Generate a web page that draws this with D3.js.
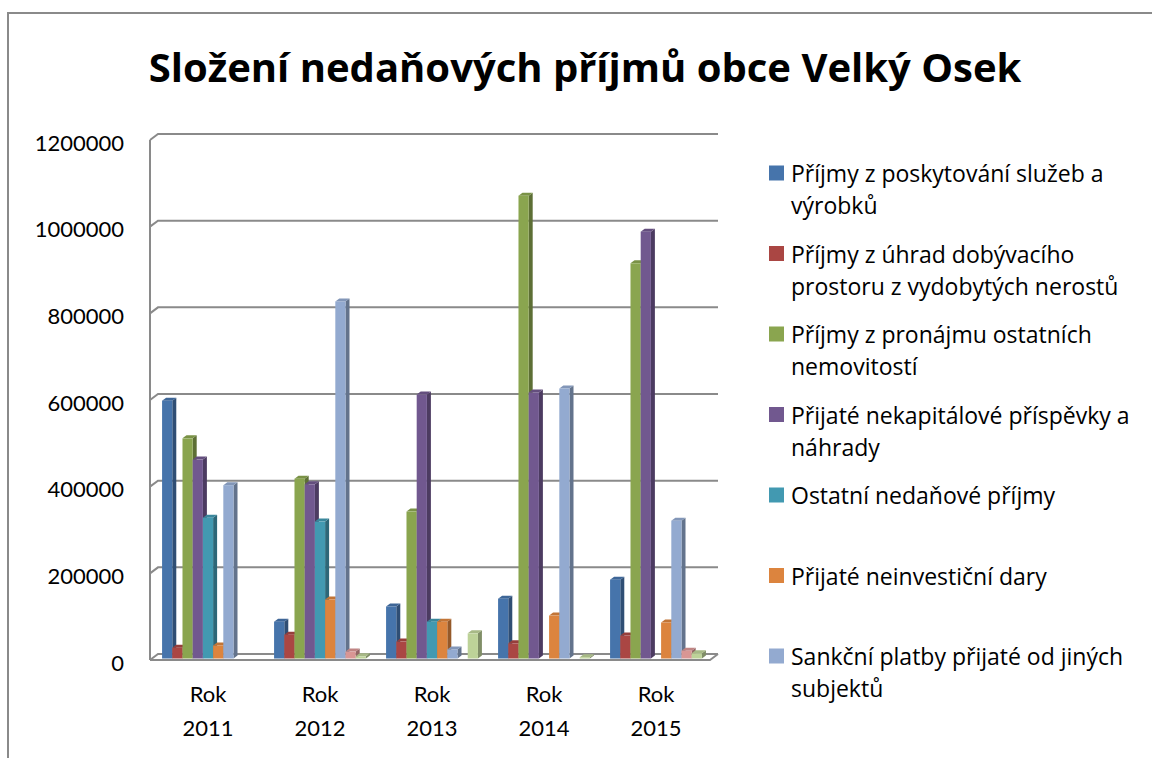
<!DOCTYPE html>
<html><head><meta charset="utf-8">
<script src="https://cdn.jsdelivr.net/npm/d3@7"></script>
<style>
html,body{margin:0;padding:0;background:#fff;}
svg text{font-family:Lato,"Open Sans",sans-serif;fill:#000;}
svg text.os{font-family:"Open Sans",Lato,sans-serif;}
</style></head>
<body><svg id="chart" width="1152" height="758"></svg>
<script>
const title = "Složení nedaňových příjmů obce Velký Osek";
const categories = ["Rok 2011", "Rok 2012", "Rok 2013", "Rok 2014", "Rok 2015"];
const seriesNames = [
  "Příjmy z poskytování služeb a výrobků",
  "Příjmy z úhrad dobývacího prostoru z vydobytých nerostů",
  "Příjmy z pronájmu ostatních nemovitostí",
  "Přijaté nekapitálové příspěvky a náhrady",
  "Ostatní nedaňové příjmy",
  "Přijaté neinvestiční dary",
  "Sankční platby přijaté od jiných subjektů",
  "",
  ""
];
const sluzby      = [595000,  85000, 120000,  138000, 182000];
const dobyvani    = [ 25000,  55000,  39000,   35000,  53000];
const pronajem    = [508000, 415000, 339000, 1068000, 912000];
const nahrady     = [459000, 402000, 609000,  614000, 985000];
const ostatni     = [325000, 316000,  85000,       0,      0];
const dary        = [ 30000, 136000,  85000,   99000,  83000];
const sankce      = [400000, 824000,  21000,  623000, 318000];
const serie8      = [     0,  16000,      0,       0,  18000];
const serie9      = [     0,   5000,  58000,    3000,  12000];
const seriesValues = [sluzby, dobyvani, pronajem, nahrady, ostatni, dary, sankce, serie8, serie9];
const colors = ["#4674AB", "#AA4643", "#8AA54F", "#71588F", "#4299B1", "#DC843E", "#93AAD0", "#D99694", "#BDD298"];
const yTicks = [0, 200000, 400000, 600000, 800000, 1000000, 1200000];
const legendCount = 7;

const svg = d3.select("#chart");
const gridColor = "#8a8a8a";

// outer frame
svg.append("rect").attr("x", 8).attr("y", 13).attr("width", 1200).attr("height", 800)
  .attr("fill", "none").attr("stroke", "#8a8a8a").attr("stroke-width", 2);

// title
svg.append("text").attr("class", "os").attr("x", 585).attr("y", 66).attr("text-anchor", "middle")
  .attr("dominant-baseline", "central").attr("font-weight", "bold").attr("font-size", 40)
  .text(title);

// geometry
const frontX0 = 150, frontX1 = 710, frontY0 = 660;
const dX = 8, dY = -6;
const hScale = d3.scaleLinear().domain([0, 1200000]).range([0, 520]);
const x = d3.scaleBand().domain(categories).range([frontX0, frontX1]).paddingInner(0.18).paddingOuter(0.09);
const xs = d3.scaleBand().domain(d3.range(seriesValues.length)).range([0, x.bandwidth()]);

// walls and gridlines
const grid = svg.append("g").attr("stroke", gridColor).attr("stroke-width", 2).attr("fill", "none");
yTicks.forEach(t => {
  const by = frontY0 + dY - hScale(t);
  grid.append("path").attr("d", `M${frontX0},${by - dY} L${frontX0 + dX},${by} L${frontX1 + dX},${by}`);
});
grid.append("line").attr("x1", frontX0).attr("x2", frontX0).attr("y1", frontY0).attr("y2", frontY0 - hScale(1200000));
grid.append("path").attr("d", `M${frontX0},${frontY0} L${frontX1},${frontY0} L${frontX1 + dX},${frontY0 + dY}`);

// y labels
svg.append("g").selectAll("text").data(yTicks).join("text")
  .attr("x", 124).attr("y", t => frontY0 - hScale(t) + 2)
  .attr("text-anchor", "end").attr("dominant-baseline", "central").attr("font-size", 22)
  .text(t => String(t));

// bars
const bOffX = 2, bOffY = -1.5, bdx = 4, bdy = -3;
const bars = svg.append("g");
categories.forEach((c, ci) => {
  seriesValues.forEach((vals, si) => {
    const v = vals[ci];
    if (!v) return;
    const col = d3.color(colors[si]);
    const w = xs.bandwidth();
    const bx = x(c) + xs(si) + bOffX;
    const base = frontY0 + bOffY;
    const top = base - hScale(v);
    const g = bars.append("g");
    g.append("path").attr("fill", col.darker(1.1).formatHex())
      .attr("d", `M${bx + w},${top} L${bx + w + bdx},${top + bdy} L${bx + w + bdx},${base + bdy} L${bx + w},${base} Z`);
    g.append("path").attr("fill", col.darker(0.35).formatHex())
      .attr("d", `M${bx},${top} L${bx + bdx},${top + bdy} L${bx + w + bdx},${top + bdy} L${bx + w},${top} Z`);
    g.append("rect").attr("x", bx).attr("y", top).attr("width", w).attr("height", hScale(v))
      .attr("fill", col.formatHex());
  });
});

// category labels
const catG = svg.append("g");
categories.forEach(c => {
  const parts = c.split(" ");
  const cx = x(c) + x.bandwidth() / 2 + 2;
  parts.forEach((p, i) => {
    catG.append("text").attr("x", cx).attr("y", 693 + i * 34).attr("text-anchor", "middle")
      .attr("dominant-baseline", "central").attr("font-size", 22).text(p);
  });
});

// legend
const leg = svg.append("g");
const maxW = 350;
const legFont = 23;
seriesNames.slice(0, legendCount).forEach((name, i) => {
  const y0 = 173 + i * 80.5;
  leg.append("rect").attr("x", 769).attr("y", y0 - 7.5).attr("width", 15).attr("height", 15).attr("fill", colors[i]);
  const words = name.split(" ");
  let lines = [], cur = "";
  const tmp = leg.append("text").attr("class", "os").attr("font-size", legFont);
  words.forEach(wd => {
    const test = cur ? cur + " " + wd : wd;
    tmp.text(test);
    if (tmp.node().getComputedTextLength() > maxW && cur) { lines.push(cur); cur = wd; }
    else cur = test;
  });
  lines.push(cur);
  tmp.remove();
  lines.forEach((ln, li) => {
    leg.append("text").attr("class", "os").attr("x", 791).attr("y", y0 + li * 32).attr("dominant-baseline", "central")
      .attr("font-size", legFont).text(ln);
  });
});
</script></body></html>
